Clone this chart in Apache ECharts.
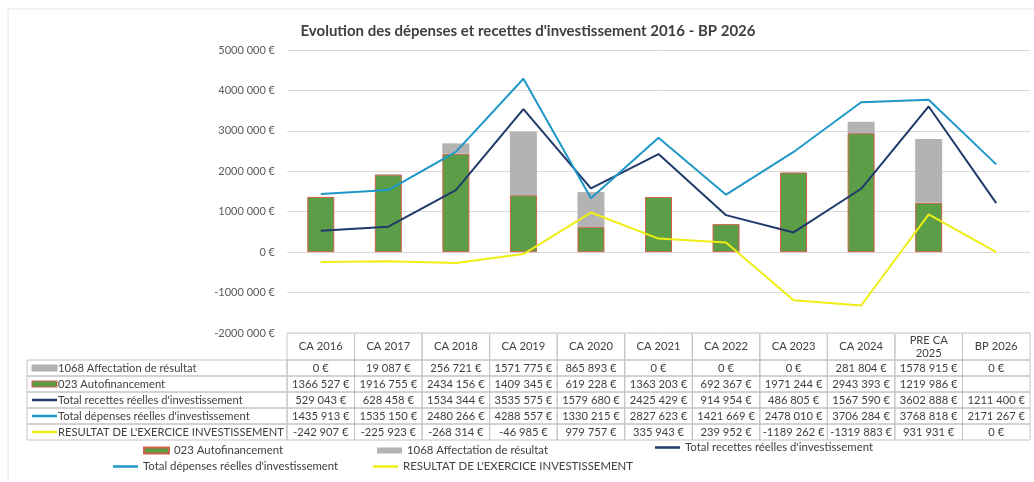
<!DOCTYPE html>
<html>
<head>
<meta charset="utf-8">
<script src="https://cdn.jsdelivr.net/npm/echarts@6/dist/echarts.min.js"></script>
<style>
  html, body { margin: 0; padding: 0; background: #fff; }
  #main { width: 1034px; height: 482px; }
</style>
</head>
<body>
<div id="main"></div>
<script>
// categories (x axis / table header)
var categories = ['CA 2016', 'CA 2017', 'CA 2018', 'CA 2019', 'CA 2020', 'CA 2021', 'CA 2022', 'CA 2023', 'CA 2024', 'PRE CA\n2025', 'BP 2026'];
// series values (euros)
var affectation = [0, 19087, 256721, 1571775, 865893, 0, 0, 0, 281804, 1578915, 0];
var autofinancement = [1366527, 1916755, 2434156, 1409345, 619228, 1363203, 692367, 1971244, 2943393, 1219986, null];
var recettes = [529043, 628458, 1534344, 3535575, 1579680, 2425429, 914954, 486805, 1567590, 3602888, 1211400];
var depenses = [1435913, 1535150, 2480266, 4288557, 1330215, 2827623, 1421669, 2478010, 3706284, 3768818, 2171267];
var resultat = [-242907, -225923, -268314, -46985, 979757, 335943, 239952, -1189262, -1319883, 931931, 0];
// y axis ticks
var yMin = -2000000, yMax = 5000000, yStep = 1000000;

var FONT = 'Lato, "Open Sans", sans-serif';
var TXT = '#404040';
var cGreen = '#5b9e47', cGreenBorder = '#d0604a', cGrey = '#b3b3b3';
var cNavy = '#1f3a6b', cBlue = '#1f97c8', cYellow = '#eeee14';

// "1366 527 €" style (only last group separated, like the sheet)
function euro(v) {
  if (v === null || v === undefined) return '';
  var neg = v < 0, a = Math.abs(Math.round(v)), s;
  if (a >= 1000) {
    var low = String(a % 1000);
    while (low.length < 3) low = '0' + low;
    s = Math.floor(a / 1000) + ' ' + low;
  } else s = String(a);
  return (neg ? '-' : '') + s + ' €';
}

var rows = [
  { name: '1068 Affectation de résultat', data: affectation, kind: 'bar', color: cGrey },
  { name: '023 Autofinancement', data: autofinancement, kind: 'bar', color: cGreen },
  { name: "Total recettes réelles d'investissement", data: recettes, kind: 'line', color: cNavy },
  { name: "Total dépenses réelles d'investissement", data: depenses, kind: 'line', color: cBlue },
  { name: "RESULTAT DE L'EXERCICE INVESTISSEMENT", data: resultat, kind: 'line', color: cYellow }
];

// data table under the plot
var gridL = 287, gridR = 4, gridT = 50, gridB = 149;
var plotW = 1034 - gridL - gridR;
var colW = plotW / categories.length;
var headTop = 333, headH = 27, rowH = 16, tabLeft = 27;
var lineCol = '#c4c4c4';
var tabFont = '11.2px ' + FONT;
var g = [];

for (var i = 0; i < categories.length; i++) {
  var x0 = gridL + i * colW;
  g.push({ type: 'rect', shape: { x: x0, y: headTop, width: colW, height: headH },
    style: { fill: 'none', stroke: lineCol, lineWidth: 1 }, silent: true });
  g.push({ type: 'text', x: x0 + colW / 2, y: headTop + headH / 2,
    style: { text: categories[i], align: 'center', verticalAlign: 'middle', fill: TXT, font: tabFont, lineHeight: 13 }, silent: true });
}
rows.forEach(function (r, k) {
  var y0 = headTop + headH + k * rowH;
  g.push({ type: 'rect', shape: { x: tabLeft, y: y0, width: gridL - tabLeft, height: rowH },
    style: { fill: 'none', stroke: lineCol, lineWidth: 1 }, silent: true });
  if (r.kind === 'bar') {
    g.push({ type: 'rect', shape: { x: tabLeft + 5, y: y0 + rowH / 2 - 3, width: 25, height: 6 },
      style: { fill: r.color, stroke: r === rows[1] ? cGreenBorder : r.color, lineWidth: 1 }, silent: true });
  } else {
    g.push({ type: 'line', shape: { x1: tabLeft + 5, y1: y0 + rowH / 2, x2: tabLeft + 30, y2: y0 + rowH / 2 },
      style: { stroke: r.color, lineWidth: 2.5 }, silent: true });
  }
  g.push({ type: 'text', x: tabLeft + 31, y: y0 + rowH / 2,
    style: { text: r.name, align: 'left', verticalAlign: 'middle', fill: TXT, font: tabFont }, silent: true });
  for (var j = 0; j < categories.length; j++) {
    var x0 = gridL + j * colW;
    g.push({ type: 'rect', shape: { x: x0, y: y0, width: colW, height: rowH },
      style: { fill: 'none', stroke: lineCol, lineWidth: 1 }, silent: true });
    g.push({ type: 'text', x: x0 + colW / 2, y: y0 + rowH / 2,
      style: { text: euro(r.data[j]), align: 'center', verticalAlign: 'middle', fill: TXT, font: tabFont }, silent: true });
  }
});

function legendAt(name, left, top, kind) {
  var l = { data: [name], left: left, top: top, itemGap: 0, padding: 0,
    textStyle: { color: TXT, fontSize: 11.4, fontFamily: FONT }, selectedMode: false };
  if (kind === 'bar') { l.icon = 'rect'; l.itemWidth = 25; l.itemHeight = 6; }
  else { l.icon = 'rect'; l.itemWidth = 25; l.itemHeight = 2.5; }
  return l;
}

var myChart = echarts.init(document.getElementById('main'));
var option = {
  backgroundColor: '#fff',
  animation: false,
  title: {
    text: "Evolution des dépenses et recettes d'investissement 2016 - BP 2026",
    left: 523, top: 19, textAlign: 'center',
    textStyle: { fontSize: 15, fontWeight: 'bold', color: TXT, fontFamily: FONT }
  },
  grid: { left: gridL, right: gridR, top: gridT, bottom: gridB },
  legend: [
    legendAt('023 Autofinancement', 143, 445, 'bar'),
    legendAt('1068 Affectation de résultat', 377, 445, 'bar'),
    legendAt("Total recettes réelles d'investissement", 655, 442, 'line'),
    legendAt("Total dépenses réelles d'investissement", 113, 461, 'line'),
    legendAt("RESULTAT DE L'EXERCICE INVESTISSEMENT", 373, 461, 'line')
  ],
  xAxis: {
    type: 'category', data: categories,
    axisLine: { show: false }, axisTick: { show: false }, axisLabel: { show: false }
  },
  yAxis: {
    type: 'value', min: yMin, max: yMax, interval: yStep,
    axisLine: { show: false }, axisTick: { show: false },
    axisLabel: { color: '#595959', fontSize: 11, fontFamily: FONT, margin: 12, formatter: euro },
    splitLine: { lineStyle: { color: '#d9d9d9', width: 1 } }
  },
  graphic: [
    { type: 'rect', shape: { x: 8, y: 9, width: 1040, height: 480 }, style: { fill: 'none', stroke: '#e2e2e2' }, silent: true },
    { type: 'group', children: g }
  ],
  series: [
    { name: '023 Autofinancement', type: 'bar', stack: 'inv', data: autofinancement, barWidth: 27,
      itemStyle: { color: cGreen, borderColor: cGreenBorder, borderWidth: 1 } },
    { name: '1068 Affectation de résultat', type: 'bar', stack: 'inv', data: affectation, barWidth: 27,
      itemStyle: { color: cGrey } },
    { name: "Total recettes réelles d'investissement", type: 'line', data: recettes, showSymbol: false,
      lineStyle: { color: cNavy, width: 2 }, itemStyle: { color: cNavy } },
    { name: "Total dépenses réelles d'investissement", type: 'line', data: depenses, showSymbol: false,
      lineStyle: { color: cBlue, width: 2 }, itemStyle: { color: cBlue } },
    { name: "RESULTAT DE L'EXERCICE INVESTISSEMENT", type: 'line', data: resultat, showSymbol: false,
      lineStyle: { color: cYellow, width: 2 }, itemStyle: { color: cYellow } }
  ]
};
myChart.setOption(option);
</script>
</body>
</html>
